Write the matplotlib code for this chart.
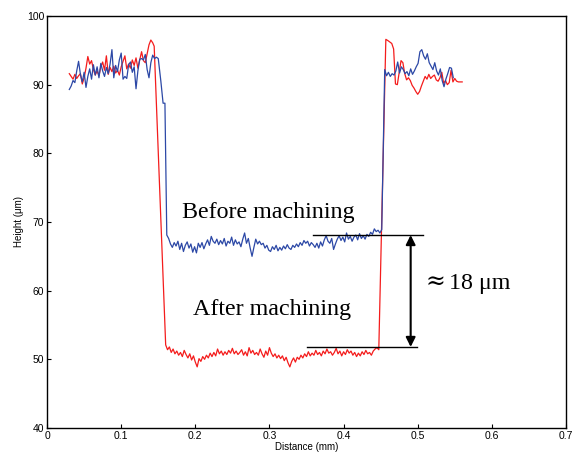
import numpy as np
import matplotlib
matplotlib.use("Agg")
import matplotlib.pyplot as plt

STEP = 0.0025  # sample spacing of the profile (mm)

# before machining (blue), heights in um
blue_left_start = 0.030
blue_left = [89.3, 89.8, 90.6, 90.3, 92.0, 93.4, 91.5, 90.4, 91.8, 89.6,
             91.2, 92.3, 90.8, 92.9, 91.4, 92.6, 91.0, 93.1, 92.0, 91.2,
             92.5, 91.6, 93.0, 95.1, 91.0, 92.8, 91.9, 93.6, 94.6, 90.8,
             91.2, 90.9, 92.9, 93.3, 91.8, 92.6, 89.4, 92.0, 93.7, 93.8,
             93.6, 94.4, 92.2, 91.0, 93.2, 94.3, 93.8, 94.0, 93.8]
blue_drop_x = [0.1535, 0.1565, 0.1590, 0.1615]
blue_drop_y = [90.5, 87.3, 87.3, 68.1]
blue_bottom_start = 0.164
blue_bottom = [67.6, 66.8, 66.3, 67.0, 66.5, 67.2, 66.0, 66.9, 65.7, 66.6,
               67.1, 66.2, 66.8, 65.6, 66.4, 65.5, 66.9, 66.3, 67.0, 66.1,
               66.8, 67.4, 66.6, 67.9, 67.2, 66.9, 67.5, 66.7, 67.3, 66.8,
               67.6, 66.5, 67.2, 66.9, 67.8, 66.6, 67.4, 66.8, 67.1, 66.4,
               67.5, 68.4, 66.9, 67.6, 66.2, 65.0, 66.3, 67.5, 66.8, 67.2,
               66.7, 66.9, 66.2, 66.6, 65.9, 65.7, 66.4, 66.0, 66.6, 65.8,
               66.3, 65.9, 66.5, 66.1, 66.7, 66.2, 66.0, 66.6, 66.3, 66.8,
               66.4, 67.0, 66.6, 67.3, 66.9, 67.2, 66.5, 67.0, 66.7, 66.3,
               66.9, 66.2, 67.1, 66.5, 67.4, 68.0, 67.2, 66.9, 67.6, 66.0,
               66.8, 67.5, 68.0, 67.3, 67.8, 67.1, 68.4, 67.5, 67.9, 67.2,
               67.8, 68.1, 67.4, 68.3, 67.6, 68.0, 67.5, 68.2, 67.9, 68.5,
               68.2, 69.0, 68.6, 68.8, 68.4]
blue_rise_x = [0.4515, 0.4555]
blue_rise_y = [68.9, 92.2]
blue_right_start = 0.458
blue_right = [91.3, 91.8, 91.2, 91.6, 91.4, 92.0, 93.3, 91.7, 92.6, 92.2,
              91.6, 91.9, 91.3, 92.3, 91.5, 92.0, 92.6, 93.1, 94.8, 95.1,
              94.2, 93.7, 94.5, 93.2, 92.7, 92.2, 93.2, 92.0, 91.4, 92.3,
              90.6, 89.7, 90.8, 91.6, 92.5, 92.4, 91.0]

# after machining (red)
red_left_start = 0.030
red_left = [91.6, 91.2, 90.8, 91.5, 90.9, 91.3, 91.6, 90.1, 91.0, 92.4,
            94.1, 93.0, 93.5, 92.2, 91.4, 92.0, 91.3, 92.6, 93.3, 92.1,
            94.2, 91.5, 92.5, 91.9, 92.7, 91.7, 92.1, 91.4, 92.6, 93.4,
            94.2, 92.3, 93.0, 92.4, 93.6, 92.8, 93.9, 92.4, 93.6, 94.8,
            93.5, 93.2, 94.5, 95.8, 96.5, 96.1]
red_drop_x = [0.1445, 0.1600]
red_drop_y = [95.6, 52.1]
red_bottom_start = 0.1625
red_bottom = [51.4, 51.8, 51.0, 51.5, 50.8, 51.2, 50.6, 51.0, 50.4, 51.3,
              50.7, 50.2, 50.8, 49.9, 50.5, 49.6, 48.9, 50.1, 49.7, 50.4,
              50.0, 50.6, 50.2, 50.9, 50.4, 51.0, 50.5, 51.5, 50.8, 51.2,
              50.6, 51.1, 50.7, 51.3, 50.9, 51.6, 50.8, 51.2, 50.7, 51.0,
              51.4, 50.6, 51.1, 50.5, 51.7, 50.9, 51.3, 50.7, 51.0, 50.6,
              51.5, 50.8, 50.3, 51.2, 50.6, 51.7, 50.9, 50.4, 50.8, 50.2,
              50.6, 50.1, 50.5, 49.8, 50.3, 49.5, 48.9, 49.7, 50.2, 49.6,
              50.3, 50.0, 50.6, 50.2, 50.8, 50.4, 51.1, 50.5, 50.9, 50.6,
              51.3, 50.7, 51.0, 50.5, 51.2, 50.8, 51.5, 50.9, 51.1, 50.6,
              51.0, 51.6, 50.8, 51.2, 50.5, 51.1, 50.7, 51.4, 50.9, 51.2,
              50.6, 51.0, 50.4, 50.9, 50.5, 51.1, 50.7, 51.3, 50.8, 51.0,
              50.6, 51.2, 51.5, 51.7, 51.4]
red_rise_x = [0.4570, 0.4600, 0.4625, 0.4650, 0.4675, 0.4700]
red_rise_y = [96.6, 96.4, 96.2, 96.0, 95.2, 90.1]
red_right_start = 0.4725
red_right = [90.0, 91.8, 93.5, 93.2, 91.6, 90.7, 91.0, 90.6, 89.9, 89.5,
             89.0, 88.6, 89.0, 89.8, 90.5, 91.2, 90.8, 91.5, 90.9, 91.2,
             91.4, 90.7, 90.5, 91.0, 91.8, 90.2, 90.6, 90.0, 90.3, 92.1,
             90.4, 90.9, 90.5, 90.4, 90.4, 90.4]

# step annotation
before_level = 68.1
after_level = 51.8


def grid(start, values):
    return list(start + STEP * np.arange(len(values)))


blue_x = (grid(blue_left_start, blue_left) + blue_drop_x
          + grid(blue_bottom_start, blue_bottom) + blue_rise_x
          + grid(blue_right_start, blue_right))
blue_y = blue_left + blue_drop_y + blue_bottom + blue_rise_y + blue_right

red_x = (grid(red_left_start, red_left) + red_drop_x
         + grid(red_bottom_start, red_bottom) + red_rise_x
         + grid(red_right_start, red_right))
red_y = red_left + red_drop_y + red_bottom + red_rise_y + red_right

plt.rcParams['font.family'] = ['Liberation Sans', 'DejaVu Sans']

fig = plt.figure(figsize=(5.74, 4.57), dpi=100)
ax = fig.add_axes([0.082, 0.0635, 0.904, 0.9015])

ax.plot(red_x, red_y, color='#f41c1c', lw=0.9)
ax.plot(blue_x, blue_y, color='#2c48a6', lw=0.9)

ax.set_xlim(0, 0.7)
ax.set_ylim(40, 100)
ax.set_xticks(np.arange(0, 0.71, 0.1))
ax.set_xticklabels(['0', '0.1', '0.2', '0.3', '0.4', '0.5', '0.6', '0.7'])
ax.set_yticks(range(40, 101, 10))
ax.tick_params(direction='in', length=3, width=0.8, labelsize=7.5, pad=2,
               top=False, right=False)
for s in ax.spines.values():
    s.set_linewidth(1.0)

ax.set_xlabel('Distance (mm)', fontsize=7, labelpad=1)
ax.set_ylabel('Height (\u03bcm)', fontsize=7, labelpad=2)

serif = ['Liberation Serif', 'DejaVu Serif']
ax.text(0.182, 70.6, 'Before machining', fontsize=17.3, family=serif)
ax.text(0.197, 56.5, 'After machining', fontsize=17.3, family=serif)
ax.text(0.510, 61.3, '\u2248', fontsize=17, family=['DejaVu Serif'],
        va='center')
ax.text(0.5425, 61.1, '18 \u03bcm', fontsize=17.3, family=serif, va='center')

ax.plot([0.359, 0.507], [before_level, before_level], color='black', lw=1.0)
ax.plot([0.351, 0.499], [after_level, after_level], color='black', lw=1.0)
ax.annotate('', xy=(0.4905, before_level), xytext=(0.4905, after_level),
            arrowprops=dict(arrowstyle='<|-|>', color='black', lw=1.5,
                            mutation_scale=14, shrinkA=0, shrinkB=0))

fig.savefig('out.png', dpi=100)
